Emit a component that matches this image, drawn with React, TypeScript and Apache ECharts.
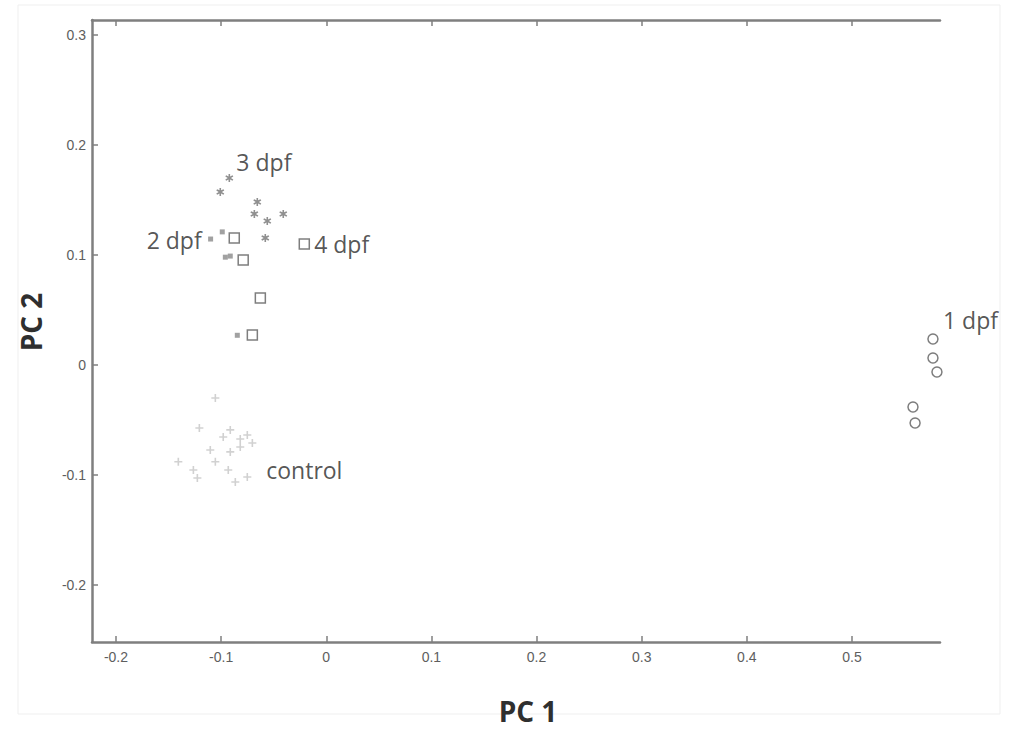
import React, { useEffect, useRef } from "react";
import * as echarts from "echarts";

// PCA scores (PC 1, PC 2) per group
const dpf1: number[][] = [
  [0.577, 0.0236],
  [0.577, 0.0064],
  [0.5808, -0.0064],
  [0.558, -0.0382],
  [0.56, -0.0527],
];
const dpf2: number[][] = [
  [-0.11, 0.1145],
  [-0.0989, 0.121],
  [-0.096, 0.098],
  [-0.0913, 0.099],
  [-0.0846, 0.027],
];
const dpf3: number[][] = [
  [-0.1008, 0.1573],
  [-0.0922, 0.17],
  [-0.0656, 0.1482],
  [-0.0684, 0.1373],
  [-0.0561, 0.1309],
  [-0.0409, 0.1373],
  [-0.058, 0.1155],
];
const dpf4: number[][] = [
  [-0.0875, 0.1155],
  [-0.079, 0.0955],
  [-0.0627, 0.061],
  [-0.0703, 0.0273],
  [-0.0209, 0.11],
];
const control: number[][] = [
  [-0.1055, -0.03],
  [-0.1207, -0.0573],
  [-0.098, -0.0655],
  [-0.0913, -0.059],
  [-0.0818, -0.0673],
  [-0.0751, -0.0636],
  [-0.0703, -0.0709],
  [-0.1103, -0.0773],
  [-0.0913, -0.079],
  [-0.0818, -0.0745],
  [-0.1407, -0.088],
  [-0.1055, -0.088],
  [-0.1264, -0.0955],
  [-0.0932, -0.0955],
  [-0.1226, -0.1027],
  [-0.0865, -0.1064],
  [-0.0751, -0.1018],
];

// Group labels and where they sit in data space
const groupLabels: { name: string; value: number[]; align: string }[] = [
  { name: "3 dpf", value: [-0.0855, 0.1845], align: "left" },
  { name: "2 dpf", value: [-0.1185, 0.1136], align: "right" },
  { name: "4 dpf", value: [-0.0115, 0.11], align: "left" },
  { name: "1 dpf", value: [0.5865, 0.041], align: "left" },
  { name: "control", value: [-0.0571, -0.0955], align: "left" },
];

const xTicks = [-0.2, -0.1, 0, 0.1, 0.2, 0.3, 0.4, 0.5];
const yTicks = [-0.2, -0.1, 0, 0.1, 0.2, 0.3];
const xRange = [-0.2228, 0.5837];
const yRange = [-0.2518, 0.3136];

const asterisk =
  "path://M4,0 L6,0 L6,3 L9,1.5 L10,3.2 L7,5 L10,6.8 L9,8.5 L6,7 L6,10 L4,10 L4,7 L1,8.5 L0,6.8 L3,5 L0,3.2 L1,1.5 L4,3 Z";
const plus = "path://M4,0 L6,0 L6,4 L10,4 L10,6 L6,6 L6,10 L4,10 L4,6 L0,6 L0,4 L4,4 Z";

const fmt = (v: number) => (Math.abs(v) < 1e-9 ? "0" : String(Math.round(v * 10) / 10));

export default function App() {
  const ref = useRef<HTMLDivElement>(null);

  useEffect(() => {
    if (!ref.current) return;
    const chart = echarts.init(ref.current, null, { renderer: "svg" });
    const axisColor = "#7f7f7f";
    const tickLabel = {
      color: "#5e5e5e",
      fontSize: 14,
      fontFamily: "Liberation Sans, Arial, sans-serif",
    };
    chart.setOption({
      animation: false,
      backgroundColor: "#ffffff",
      grid: { left: 92, top: 20, width: 848, height: 622, containLabel: false },
      xAxis: [
        {
          type: "value",
          position: "bottom",
          min: xRange[0],
          max: xRange[1],
          splitLine: { show: false },
          axisLine: { show: true, onZero: false, lineStyle: { color: axisColor, width: 2.5 } },
          axisTick: {
            show: true,
            inside: true,
            length: 6,
            customValues: xTicks,
            lineStyle: { color: axisColor, width: 1.5 },
          },
          axisLabel: {
            ...tickLabel,
            margin: 8,
            customValues: xTicks,
            formatter: fmt,
          },
        },
        {
          type: "value",
          position: "top",
          min: xRange[0],
          max: xRange[1],
          splitLine: { show: false },
          axisLine: { show: true, onZero: false, lineStyle: { color: axisColor, width: 2.5 } },
          axisTick: {
            show: true,
            inside: true,
            length: 6,
            customValues: xTicks,
            lineStyle: { color: axisColor, width: 1.5 },
          },
          axisLabel: { show: false },
        },
      ],
      yAxis: {
        type: "value",
        min: yRange[0],
        max: yRange[1],
        splitLine: { show: false },
        axisLine: { show: true, onZero: false, lineStyle: { color: axisColor, width: 2.5 } },
        axisTick: {
          show: true,
          inside: true,
          length: 6,
          customValues: yTicks,
          lineStyle: { color: axisColor, width: 1.5 },
        },
        axisLabel: {
          ...tickLabel,
          margin: 6,
          customValues: yTicks,
          formatter: fmt,
        },
      },
      series: [
        {
          name: "control",
          type: "scatter",
          data: control,
          symbol: plus,
          symbolSize: 8,
          itemStyle: { color: "#c6c6c6" },
        },
        {
          name: "2 dpf",
          type: "scatter",
          data: dpf2,
          symbol: "rect",
          symbolSize: 5,
          itemStyle: { color: "#8a8a8a" },
        },
        {
          name: "3 dpf",
          type: "scatter",
          data: dpf3,
          symbol: asterisk,
          symbolSize: 8,
          itemStyle: { color: "#747474" },
        },
        {
          name: "4 dpf",
          type: "scatter",
          data: dpf4,
          symbol: "rect",
          symbolSize: 10,
          itemStyle: { color: "#ffffff", borderColor: "#5e5e5e", borderWidth: 1.5 },
        },
        {
          name: "1 dpf",
          type: "scatter",
          data: dpf1,
          symbol: "circle",
          symbolSize: 10,
          itemStyle: { color: "#ffffff", borderColor: "#5e5e5e", borderWidth: 1.5 },
        },
        {
          name: "labels",
          type: "scatter",
          clip: false,
          silent: true,
          symbolSize: 0,
          data: groupLabels.map((g) => ({
            name: g.name,
            value: g.value,
            label: {
              show: true,
              formatter: "{b}",
              position: "inside",
              align: g.align,
              verticalAlign: "middle",
              color: "#2a2a2a",
              fontSize: 23,
              fontFamily: "Open Sans, Noto Sans, sans-serif",
            },
          })),
        },
      ],
      graphic: [
        {
          type: "rect",
          silent: true,
          shape: { x: 18, y: 5, width: 982, height: 709 },
          style: { fill: "none", stroke: "#efefef", lineWidth: 1 },
          z: -1,
        },
        {
          type: "text",
          x: 528,
          y: 711,
          style: {
            text: "PC 1",
            fill: "#2f2f2f",
            fontSize: 28,
            fontWeight: "bold",
            fontFamily: "Open Sans, Noto Sans, sans-serif",
            align: "center",
            verticalAlign: "middle",
          },
        },
        {
          type: "text",
          x: 31,
          y: 322,
          rotation: Math.PI / 2,
          style: {
            text: "PC 2",
            fill: "#2f2f2f",
            fontSize: 28,
            fontWeight: "bold",
            fontFamily: "Open Sans, Noto Sans, sans-serif",
            align: "center",
            verticalAlign: "middle",
          },
        },
      ],
    });
    return () => chart.dispose();
  }, []);

  return (
    <div
      ref={ref}
      style={{ position: "fixed", left: 0, top: 0, width: 1010, height: 729, background: "#fff" }}
    />
  );
}
